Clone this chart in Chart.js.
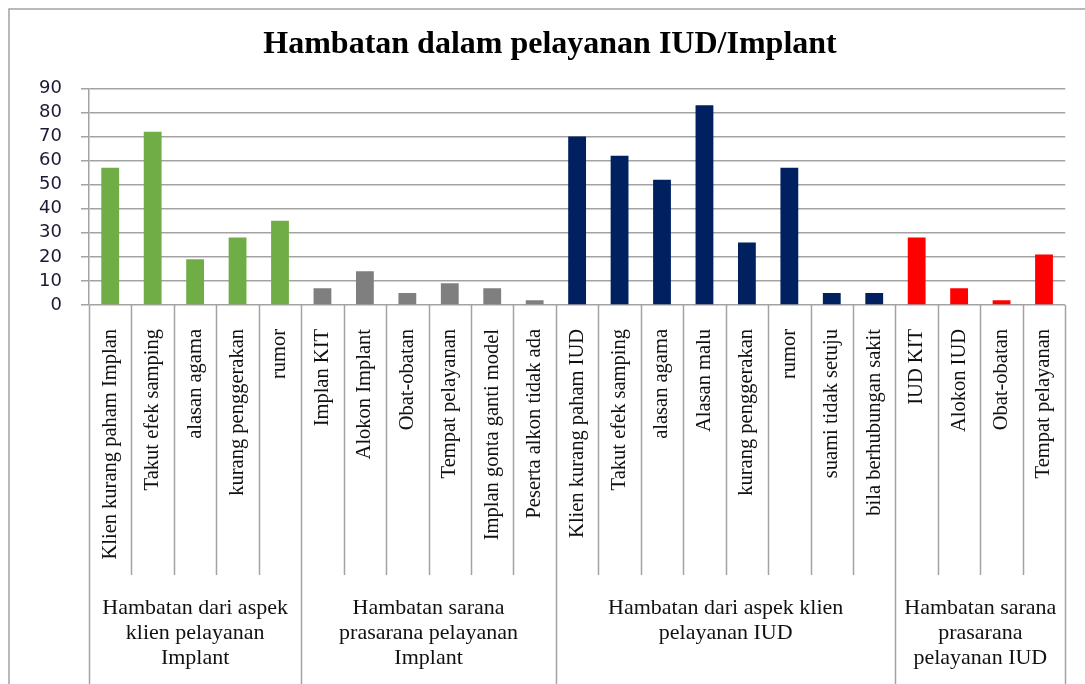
<!DOCTYPE html>
<html>
<head>
<meta charset="utf-8">
<script src="https://cdn.jsdelivr.net/npm/chart.js@4.4.0/dist/chart.umd.min.js"></script>
<style>
  body { margin: 0; background: #fff; }
</style>
</head>
<body>
<canvas id="chart" width="1085" height="684"></canvas>
<script>
// categories (rotated labels under the axis)
const labels = [
  'Klien kurang paham Implan', 'Takut efek samping', 'alasan agama', 'kurang penggerakan', 'rumor',
  'Implan KIT', 'Alokon Implant', 'Obat-obatan', 'Tempat pelayanan', 'Implan gonta ganti model', 'Peserta alkon tidak ada',
  'Klien kurang paham IUD', 'Takut efek samping', 'alasan agama', 'Alasan malu', 'kurang penggerakan', 'rumor', 'suami tidak setuju', 'bila berhubungan sakit',
  'IUD KIT', 'Alokon IUD', 'Obat-obatan', 'Tempat pelayanan'
];
const values = [
  57, 72, 19, 28, 35,
  7, 14, 5, 9, 7, 2,
  70, 62, 52, 83, 26, 57, 5, 5,
  28, 7, 2, 21
];

// groups shown on the second row of the axis
const groupNames = [
  ['Hambatan dari aspek', 'klien pelayanan', 'Implant'],
  ['Hambatan sarana', 'prasarana pelayanan', 'Implant'],
  ['Hambatan dari aspek klien', 'pelayanan IUD'],
  ['Hambatan sarana', 'prasarana', 'pelayanan IUD']
];
const groupSizes = [5, 6, 8, 4];
const groupColors = ['#70ad47', '#7f7f7f', '#002060', '#ff0000'];

const yTicks = [0, 10, 20, 30, 40, 50, 60, 70, 80, 90];

const lineColor = '#a3a3a3';

// colour of each bar comes from its group
const barColors = [];
groupSizes.forEach((n, g) => { for (let i = 0; i < n; i++) barColors.push(groupColors[g]); });

const groupPlugin = {
    id: 'groupPlugin',
    beforeDraw(chart) {
        const ctx = chart.ctx;
        ctx.save();
        ctx.fillStyle = '#fff';
        ctx.fillRect(0, 0, chart.width, chart.height);
        // outer frame
        ctx.strokeStyle = lineColor;
        ctx.lineWidth = 1.5;
        ctx.strokeRect(9, 9, chart.width + 40, chart.height + 40);
        ctx.restore();
    },
    afterDraw(chart) {
        const ctx = chart.ctx;
        const x = chart.scales.x;
        const area = chart.chartArea;
        const half = (x.getPixelForValue(1) - x.getPixelForValue(0)) / 2;

        const bounds = [0];
        groupSizes.forEach(n => bounds.push(bounds[bounds.length - 1] + n));

        ctx.save();
        ctx.strokeStyle = lineColor;
        ctx.lineWidth = 1.5;
        for (let i = 0; i <= labels.length; i++) {
            const px = Math.round(x.getPixelForValue(i) - half) + 0.5;
            const end = bounds.includes(i) ? chart.height : x.bottom;
            ctx.beginPath();
            ctx.moveTo(px, area.bottom);
            ctx.lineTo(px, end);
            ctx.stroke();
        }

        // group captions
        ctx.fillStyle = '#111';
        ctx.font = '22px "Liberation Serif", "Times New Roman", serif';
        ctx.textAlign = 'center';
        ctx.textBaseline = 'middle';
        groupNames.forEach((lines, g) => {
            const cx = (x.getPixelForValue(bounds[g]) + x.getPixelForValue(bounds[g + 1] - 1)) / 2;
            lines.forEach((t, k) => ctx.fillText(t, cx, x.bottom + 33 + k * 25));
        });
        ctx.restore();
    }
};

new Chart(document.getElementById('chart'), {
    type: 'bar',
    data: {
        labels: labels,
        datasets: [{
            data: values,
            backgroundColor: barColors,
            barPercentage: 0.42,
            categoryPercentage: 1
        }]
    },
    options: {
        responsive: false,
        animation: false,
        layout: { padding: { top: 0, left: 33, right: 18, bottom: 109 } },
        plugins: {
            legend: { display: false },
            tooltip: { enabled: false },
            title: {
                display: true,
                text: 'Hambatan dalam pelayanan IUD/Implant',
                color: '#000',
                font: { family: '"Liberation Serif", "Times New Roman", serif', size: 32, weight: 'bold', lineHeight: 1.2 },
                padding: { top: 26, bottom: 24 }
            }
        },
        scales: {
            x: {
                afterFit: (scale) => { scale.height = 270; },
                grid: { display: false },
                border: { display: false },
                ticks: {
                    autoSkip: false,
                    minRotation: 90,
                    maxRotation: 90,
                    padding: 16,
                    color: '#111',
                    font: { family: '"Liberation Serif", "Times New Roman", serif', size: 20.5 }
                }
            },
            y: {
                min: 0,
                max: 90,
                afterFit: (scale) => { scale.width = 56; },
                afterBuildTicks: (scale) => { scale.ticks = yTicks.map(v => ({ value: v })); },
                grid: { color: lineColor, lineWidth: 1.5, tickLength: 8 },
                border: { display: true, color: lineColor, width: 1.5 },
                ticks: {
                    autoSkip: false,
                    padding: 19,
                    color: '#1a1a33',
                    font: { family: '"DejaVu Sans", Verdana, sans-serif', size: 18 }
                }
            }
        }
    },
    plugins: [groupPlugin]
});
</script>
</body>
</html>
